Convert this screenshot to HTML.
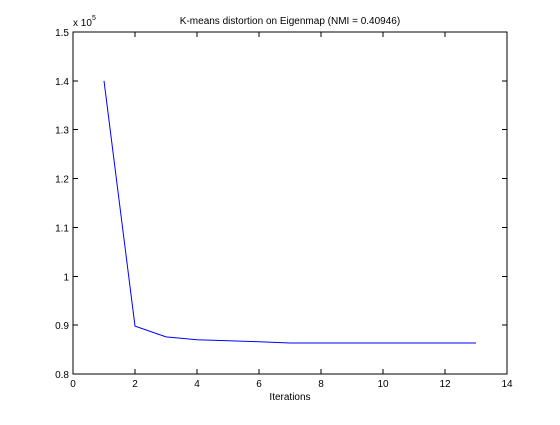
<!DOCTYPE html>
<html><head><meta charset="utf-8"><style>
body{margin:0;background:#fff;width:560px;height:420px;overflow:hidden}
text{font-family:"Liberation Sans",sans-serif;font-size:10px;fill:#000}
</style></head><body>
<svg id="chart" width="560" height="420" xmlns="http://www.w3.org/2000/svg"></svg>
<script>
const iterations=[1,2,3,4,5,6,7,8,9,10,11,12,13];
const distortion=[1.40,0.898,0.876,0.870,0.868,0.866,0.8635,0.8635,0.8635,0.8635,0.8635,0.8635,0.8635];
const xTicks=[0,2,4,6,8,10,12,14];
const yTicks=[0.8,0.9,1,1.1,1.2,1.3,1.4,1.5];
const yTickLabels=["0.8","0.9","1","1.1","1.2","1.3","1.4","1.5"];
const L=73,R=507,T=32,B=374;
const xs=v=>L+(v-0)/14*(R-L);
const ys=v=>B-(v-0.8)/0.7*(B-T);
const svg=document.getElementById('chart');
const NS='http://www.w3.org/2000/svg';
function mk(tag,attrs,parent){const e=document.createElementNS(NS,tag);for(const k in attrs)e.setAttribute(k,attrs[k]);(parent||svg).appendChild(e);return e;}
const frame=mk('rect',{x:L,y:T,width:R-L,height:B-T,fill:'none',stroke:'#000','stroke-width':1,'shape-rendering':'crispEdges'});


xTicks.forEach(v=>{
  const x=xs(v);
  const g=mk('g',{});
  
  
  mk('line',{x1:x,x2:x,y1:B,y2:B-5,stroke:'#000','shape-rendering':'crispEdges'},g);
  mk('line',{x1:x,x2:x,y1:T,y2:T+5,stroke:'#000','shape-rendering':'crispEdges'},g);
  const t=mk('text',{x:x,y:B+13,'text-anchor':'middle'},g);t.textContent=v;
});
yTicks.forEach((v,i)=>{
  const y=ys(v);
  const g=mk('g',{});
  
  
  mk('line',{x1:L,x2:L+5,y1:y,y2:y,stroke:'#000','shape-rendering':'crispEdges'},g);
  mk('line',{x1:R,x2:R-5,y1:y,y2:y,stroke:'#000','shape-rendering':'crispEdges'},g);
  const t=mk('text',{x:L-4,y:y+4,'text-anchor':'end'},g);t.textContent=yTickLabels[i];
});
const pts=iterations.map((v,i)=>xs(v)+','+ys(distortion[i])).join(' ');
const line=mk('polyline',{points:pts,fill:'none',stroke:'#0000ff','stroke-width':1});


const title=mk('text',{x:290,y:24,'text-anchor':'middle'});title.textContent='K-means distortion on Eigenmap (NMI = 0.40946)';


const xl=mk('text',{x:290,y:400,'text-anchor':'middle'});xl.textContent='Iterations';


const ex=mk('text',{x:73,y:26});ex.textContent='x 10';


const e5=mk('text',{x:92,y:20,style:'font-size:7px'});e5.textContent='5';


</script>
</body></html>
